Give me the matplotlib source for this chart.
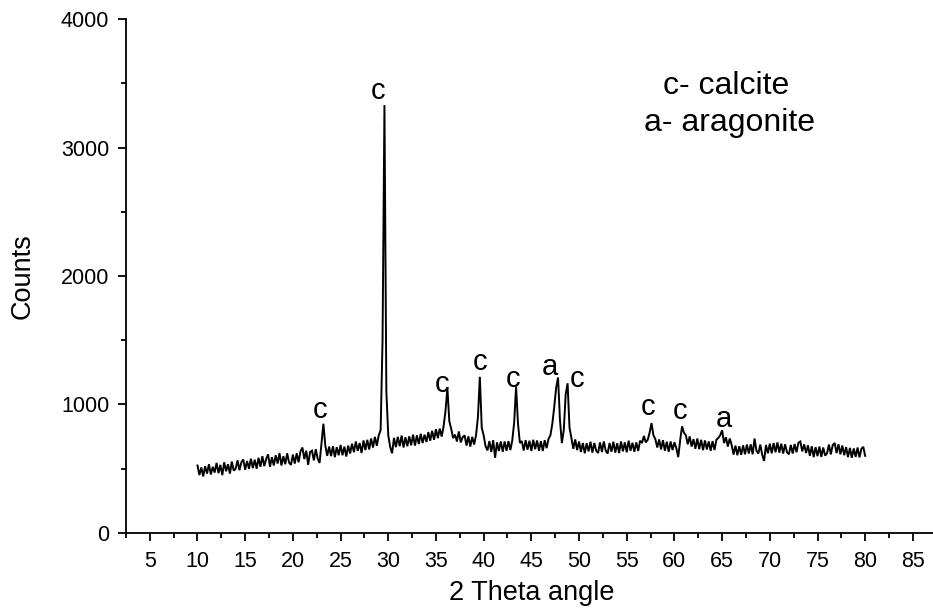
import numpy as np
import matplotlib
matplotlib.use("Agg")
import matplotlib.pyplot as plt
from matplotlib.ticker import MultipleLocator

plt.rcParams['font.family'] = ['Liberation Sans', 'DejaVu Sans']

# =============================================================================
# DATA (0.2 deg step from 10 to 80)
# =============================================================================
start_2theta = 10.0
step_2theta = 0.2

counts = [
    525, 450, 510, 440, 520, 462, 535, 455, 515, 470,   # 10
    545, 465, 530, 450, 550, 480, 535, 462, 555, 485,   # 12
    500, 565, 488, 550, 572, 492, 560, 500, 578, 505,   # 14
    570, 500, 585, 515, 598, 520, 575, 612, 515, 590,   # 16
    525, 605, 540, 622, 525, 598, 535, 620, 548, 530,   # 18
    610, 540, 620, 550, 635, 665, 575, 640, 530, 630,   # 20
    640, 565, 652, 578, 545, 700, 850, 680, 600, 672,   # 22
    598, 675, 590, 668, 605, 685, 605, 672, 595, 680,   # 24
    618, 695, 628, 712, 638, 700, 622, 720, 645, 725,   # 26
    650, 735, 665, 748, 678, 760, 800, 1500, 3330, 1100,  # 28
    760, 670, 620, 740, 668, 748, 675, 758, 665, 745,   # 30
    675, 752, 682, 765, 680, 760, 692, 772, 700, 765,   # 32
    708, 785, 718, 795, 725, 808, 738, 812, 750, 830,   # 34
    950, 1125, 870, 810, 738, 765, 712, 790, 705, 745,  # 36
    760, 680, 752, 672, 748, 688, 760, 900, 1215, 820,  # 38
    760, 675, 642, 715, 630, 722, 585, 705, 638, 712,   # 40
    632, 712, 640, 715, 645, 720, 860, 1140, 850, 700,  # 42
    715, 642, 722, 648, 718, 638, 725, 652, 720, 640,   # 44
    715, 638, 722, 660, 732, 760, 850, 980, 1130, 1210,  # 46
    880, 700, 800, 1080, 1165, 820, 735, 655, 728, 645,  # 48
    712, 630, 700, 620, 698, 635, 710, 625, 700, 640,   # 50
    622, 705, 630, 712, 640, 618, 700, 632, 710, 625,   # 52
    698, 622, 712, 635, 705, 628, 718, 640, 702, 632,   # 54
    705, 638, 718, 700, 755, 705, 725, 780, 855, 760,   # 56
    730, 665, 728, 650, 722, 640, 710, 632, 712, 645,   # 58
    705, 660, 590, 720, 830, 780, 760, 690, 752, 672,   # 60
    730, 655, 735, 652, 725, 645, 720, 650, 712, 640,   # 62
    715, 645, 725, 740, 760, 800, 700, 745, 672, 735,   # 64
    685, 610, 680, 605, 675, 608, 682, 612, 688, 618,   # 66
    690, 612, 735, 640, 618, 688, 610, 560, 685, 620,   # 68
    695, 620, 700, 628, 705, 625, 695, 618, 690, 628,   # 70
    612, 685, 618, 692, 628, 702, 712, 635, 690, 622,   # 72
    682, 600, 675, 590, 668, 598, 672, 592, 665, 602,   # 74
    620, 688, 612, 685, 700, 622, 690, 612, 680, 605,   # 76
    668, 590, 662, 585, 658, 592, 665, 588, 655, 670,   # 78
    600,                                                # 80
]

# phase labels: text, 2theta, counts (baseline of letter)
peak_labels = ['c', 'c', 'c', 'c', 'c', 'a', 'c', 'c', 'c', 'a']
label_2theta = [22.9, 28.9, 35.6, 39.6, 43.1, 46.9, 49.8, 57.2, 60.6, 65.2]
label_counts = [895, 3377, 1097, 1268, 1136, 1230, 1136, 918, 887, 825]

legend_lines = ['c- calcite', 'a- aragonite']

# =============================================================================
# PLOT
# =============================================================================
two_theta = np.round(start_2theta + step_2theta * np.arange(len(counts)), 1)

fig = plt.figure(figsize=(9.33, 6.14), dpi=100)
ax = fig.add_axes([0.135, 0.132, 0.869, 0.837])

ax.plot(two_theta, counts, color='black', lw=1.4, solid_joinstyle='miter')

for txt, xx, yy in zip(peak_labels, label_2theta, label_counts):
    ax.text(xx, yy, txt, ha='center', va='baseline', fontsize=21)

ax.text(65.4, 3416, legend_lines[0], ha='center', va='baseline', fontsize=23)
ax.text(65.8, 3128, legend_lines[1], ha='center', va='baseline', fontsize=23)

ax.set_xlim(2.5, 87.5)
ax.set_ylim(0, 4000)
ax.xaxis.set_major_locator(MultipleLocator(5))
ax.xaxis.set_minor_locator(MultipleLocator(2.5))
ax.yaxis.set_major_locator(MultipleLocator(1000))
ax.yaxis.set_minor_locator(MultipleLocator(500))

ax.spines['top'].set_visible(False)
ax.spines['right'].set_visible(False)
for s in ('left', 'bottom'):
    ax.spines[s].set_linewidth(1.3)

ax.tick_params(which='major', direction='out', length=6, width=1.3, labelsize=15.5)
ax.tick_params(which='minor', direction='out', length=3.5, width=1.3)
ax.tick_params(axis='x', which='major', pad=7)
ax.tick_params(axis='y', which='major', pad=6)

ax.set_xlabel('2 Theta angle', fontsize=19.5, labelpad=6)
ax.set_ylabel('Counts', fontsize=19.5, labelpad=18)

fig.savefig('out.png', dpi=100)
